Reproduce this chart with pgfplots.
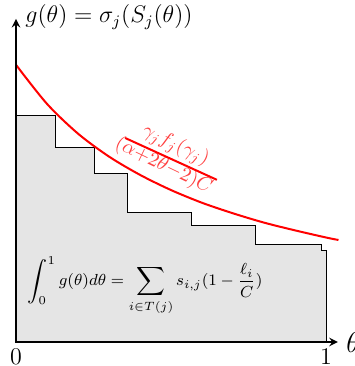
\documentclass[border=0pt]{standalone}
\usepackage{pgfplots}
\pgfplotsset{compat=1.18}
\begin{document}
\begin{tikzpicture}
\begin{axis}[
  x=155pt, y=155pt,
  xmin=0, xmax=1.038, ymin=0, ymax=1.042,
  axis lines=left,
  axis line style={line width=0.9pt},
  clip=false,
  axis on top,
  xtick={0,1}, ytick=\empty,
  major tick length=0pt,
  xticklabel style={font=\fontsize{13}{15}\selectfont},
]
\addplot[draw=black, line width=0.5pt, fill=black!10] coordinates {
  (0,0) (0,0.729) (0.126,0.729) (0.126,0.626) (0.252,0.626) (0.252,0.542)
  (0.358,0.542) (0.358,0.417) (0.565,0.417) (0.565,0.375) (0.774,0.375)
  (0.774,0.313) (0.984,0.313) (0.984,0.294) (1,0.294) (1,0)} \closedcycle;
\addplot[red, line width=1pt, smooth] coordinates {
  (0,0.894) (0.1,0.768) (0.2,0.672) (0.3,0.598) (0.4,0.539) (0.5,0.490)
  (0.6,0.449) (0.7,0.415) (0.8,0.385) (0.9,0.360) (1.0,0.337) (1.04,0.329)};
\node[text=red!75, rotate=-25.8, inner sep=0pt] at (axis cs:0.515,0.634) {$\gamma_j f_j(\gamma_j)$};
\node[text=red!75, rotate=-25.8, inner sep=0pt] at (axis cs:0.476,0.568) {$(\alpha{+}2\theta{-}2)C$};
\draw[red, line width=1pt] (axis cs:0.352,0.658) -- (axis cs:0.648,0.523);
\node at (axis cs:0.416,0.181) {\footnotesize $\displaystyle\int_0^1 g(\theta)d\theta = \sum_{i\in T(j)} s_{i,j}(1-\frac{\ell_i}{C})$};
\node[anchor=west, inner sep=0pt, xshift=4.5pt, yshift=1pt] at (rel axis cs:0,1) {\large $g(\theta)=\sigma_j(S_j(\theta))$};
\node[anchor=west, inner sep=0pt, xshift=4pt] at (rel axis cs:1,0) {\Large $\theta$};
\coordinate (bbSW) at (axis cs:-0.0516,-0.0774);
\coordinate (bbNE) at (axis cs:1.0903,1.103);
\end{axis}
\pgfresetboundingbox
\path[use as bounding box] (bbSW) rectangle (bbNE);
\end{tikzpicture}
\end{document}
